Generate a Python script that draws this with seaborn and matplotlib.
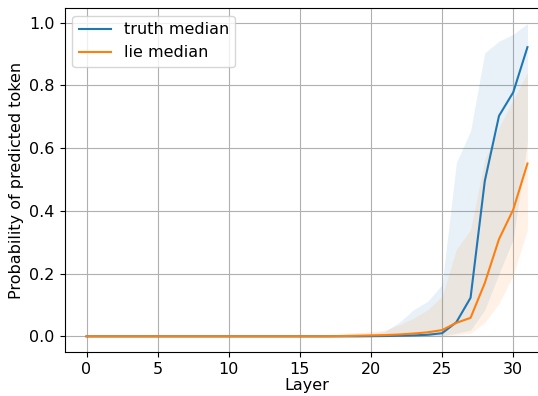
import numpy as np
import pandas as pd
import matplotlib
matplotlib.use("Agg")
import matplotlib.pyplot as plt
import seaborn as sns

# Per-layer probability of the predicted token (median and spread)
layers = list(range(32))

truth_median = [0.0] * 20 + [0.0005, 0.001, 0.002, 0.003, 0.005, 0.010,
                             0.045, 0.123, 0.495, 0.703, 0.778, 0.922]
truth_lower = [0.0] * 25 + [0.002, 0.010, 0.020, 0.085, 0.200, 0.310, 0.620]
truth_upper = [0.0] * 18 + [0.001, 0.003, 0.008, 0.016, 0.045, 0.085, 0.112,
                            0.165, 0.553, 0.655, 0.904, 0.941, 0.963, 0.997]

lie_median = [0.0] * 18 + [0.001, 0.002, 0.003, 0.004, 0.006, 0.009, 0.013,
                           0.020, 0.043, 0.059, 0.170, 0.310, 0.404, 0.551]
lie_lower = [0.0] * 25 + [0.002, 0.005, 0.010, 0.044, 0.105, 0.195, 0.340]
lie_upper = [0.0] * 17 + [0.003, 0.008, 0.012, 0.015, 0.020, 0.037, 0.058,
                          0.085, 0.128, 0.277, 0.340, 0.564, 0.665, 0.755, 0.840]

series_labels = ["truth median", "lie median"]
colors = ["#1f77b4", "#ff7f0e"]

df = pd.DataFrame({
    "Layer": layers * 2,
    "value": truth_median + lie_median,
    "series": [series_labels[0]] * len(layers) + [series_labels[1]] * len(layers),
})

plt.rcParams["font.family"] = ["DejaVu Sans"]

fig = plt.figure(figsize=(5.38, 3.96), dpi=100)
ax = fig.add_axes([64.5 / 538, 1 - 352 / 396, 485 / 538, 344 / 396])

sns.lineplot(data=df, x="Layer", y="value", hue="series",
             palette=colors, linewidth=1.5, ax=ax)

ax.fill_between(layers, truth_lower, truth_upper, color=colors[0],
                alpha=0.1, linewidth=0)
ax.fill_between(layers, lie_lower, lie_upper, color=colors[1],
                alpha=0.1, linewidth=0)

fs = 11.5
ax.set_xlim(-1.55, 32.55)
ax.set_ylim(-0.0499, 1.0468)
ax.set_xticks([0, 5, 10, 15, 20, 25, 30])
ax.set_yticks([0.0, 0.2, 0.4, 0.6, 0.8, 1.0])
ax.set_yticklabels(["0.0", "0.2", "0.4", "0.6", "0.8", "1.0"])
ax.grid(True, color="#b0b0b0", linewidth=0.8)
ax.set_axisbelow(True)
ax.tick_params(labelsize=fs)
ax.set_xlabel("Layer", fontsize=fs, labelpad=1)
ax.set_ylabel("Probability of predicted token", fontsize=fs)

ax.legend(title=None, loc="upper left", fontsize=fs)

fig.savefig("out.png", dpi=100)
